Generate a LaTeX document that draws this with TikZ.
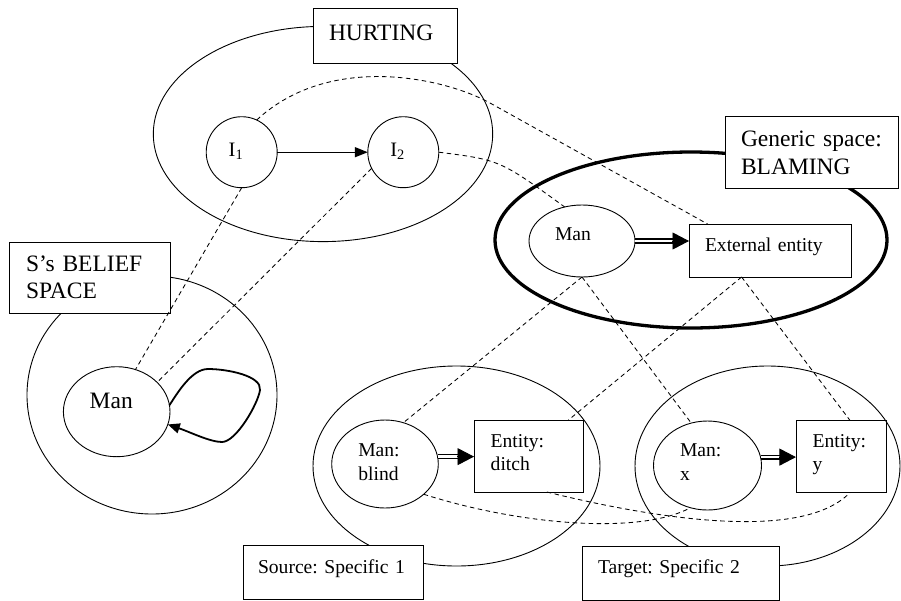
\documentclass[tikz,border=0pt]{standalone}
\usepackage{fontspec}
\setmainfont{Liberation Serif}
\usetikzlibrary{shapes.geometric, arrows.meta}
\frenchspacing

% type sizes: space labels, elements, instants
\newcommand\tagsize{\fontsize{23.5}{27.5}\selectfont}
\newcommand\itemsize{\fontsize{19.6}{23.5}\selectfont}
\newcommand\instsize{\fontsize{20.5}{24}\selectfont}

\begin{document}
\begin{tikzpicture}[x=1pt, y=-1pt,
  thinline/.style={line width=0.9pt},
  space/.style={draw, ellipse, thinline, inner sep=0pt, outer sep=0pt},
  tag/.style={draw, fill=white, rectangle, thinline, inner sep=1pt, outer sep=0pt,
    align=left, font=\tagsize},
  itemtag/.style={tag, font=\itemsize},
  elem/.style={draw, ellipse, thinline, inner sep=1pt, outer sep=0pt,
    align=left, font=\itemsize},
  entitybox/.style={draw, rectangle, thinline, inner sep=1pt, outer sep=0pt,
    align=left, font=\itemsize},
  inst/.style={draw, circle, thinline, minimum size=71pt, inner sep=0pt, outer sep=0pt,
    align=left, font=\instsize, text width=26pt, text height=14pt, text depth=5pt},
  mapline/.style={line width=0.85pt, dash pattern=on 4.5pt off 3.5pt},
  dblshaft/.style={double, double distance=2.6pt, line width=1.25pt},
  dbltip/.style={line width=0.9pt, -{Triangle[length=16.5pt,width=17pt]}},
]
\path[use as bounding box, fill=white] (0,0) rectangle (901,600);

% mental spaces
\node[space, minimum width=339.4pt, minimum height=215.2pt] (hurtsp) at (323,134) {};
\node[space, minimum width=250pt, minimum height=238pt] (beliefsp) at (152,395) {};
\node[space, line width=3.3pt, minimum width=392pt, minimum height=176pt] (genericsp) at (691,240) {};
\node[space, minimum width=287pt, minimum height=200pt] (sourcesp) at (456.5,466) {};
\node[space, minimum width=265pt, minimum height=200pt] (targetsp) at (767.5,466) {};

% space labels
\node[tag, minimum width=144pt, minimum height=55pt, text width=112pt,
  text height=16pt, text depth=7pt] (hurtlbl) at (385,35.5) {HURTING};
\node[tag, minimum width=161pt, minimum height=71pt, text width=127pt,
  text height=16pt, text depth=28.4pt] (beliefl) at (89.5,277.5) {\mbox{S’s BELIEF}\\SPACE};
\node[tag, minimum width=173pt, minimum height=72pt, text width=141pt,
  text height=16pt, text depth=27pt] (genericl) at (811.5,152) {\mbox{Generic space:}\\BLAMING};
\node[itemtag, minimum width=180pt, minimum height=54pt, text width=150pt,
  text height=14pt, text depth=11.4pt] (sourcel) at (333,572) {\mbox{Source: Specific 1}};
\node[itemtag, minimum width=197pt, minimum height=54pt, text width=165pt,
  text height=14pt, text depth=13pt] (targetl) at (680.5,573) {\mbox{Target: Specific 2}};

% elements
\node[inst] (i1) at (241.7,152.2) {I\textsubscript{1}};
\node[inst] (i2) at (403.3,152.2) {I\textsubscript{2}};
\node[elem, minimum width=106.6pt, minimum height=90pt, font=\tagsize, text width=54pt,
  text height=16pt, text depth=22.8pt] (bman) at (116.7,411.7) {Man};
\node[elem, minimum width=106pt, minimum height=72pt, text width=54pt,
  text height=14pt, text depth=14.6pt] (gman) at (582,241) {Man};
\node[entitybox, minimum width=162pt, minimum height=53pt, text width=130pt,
  text height=14pt, text depth=11.6pt] (ext) at (770,250.5) {\mbox{External entity}};
\node[elem, minimum width=106.6pt, minimum height=88pt, text width=53.4pt,
  text height=14pt, text depth=28.6pt] (mb) at (385,464) {Man:\\blind};
\node[entitybox, minimum width=109pt, minimum height=72pt, text width=75.6pt,
  text height=14pt, text depth=31.4pt] (ed) at (528.5,456) {Entity:\\ditch};
\node[elem, minimum width=108pt, minimum height=89pt, text width=55pt,
  text height=14pt, text depth=31.6pt] (mx) at (707.5,465.5) {Man:\\x};
\node[entitybox, minimum width=90.7pt, minimum height=71.6pt, text width=57.2pt,
  text height=14pt, text depth=32.4pt] (ey) at (841.3,456.5) {Entity:\\y};

% relations inside the spaces
\draw[line width=1.4pt, -{Triangle[length=13pt,width=10pt]}] (i1) -- (i2);
\draw[line width=1.8pt, -{Triangle[length=12pt,width=10pt]}]
  (bman.7) .. controls (178,392) and (192,369) .. (208,369)
  .. controls (228,369) and (262,376) .. (260,390)
  .. controls (258,404) and (236,442) .. (222,442)
  .. controls (210,442) and (190,432) .. (bman.-14);

\draw[dblshaft, shorten >=16pt] (gman.east) -- (gman.east -| ext.west);
\draw[dbltip, shorten <=37pt] (gman.east) -- (gman.east -| ext.west);
\draw[dblshaft, shorten >=16pt] (mb.8) -- (mb.8 -| ed.west);
\draw[dbltip, shorten <=19.5pt] (mb.8) -- (mb.8 -| ed.west);
\draw[dblshaft, shorten >=16pt] (mx.9) -- (mx.9 -| ey.west);
\draw[dbltip, shorten <=18.5pt] (mx.9) -- (mx.9 -| ey.west);

% cross-space mappings
\draw[mapline] (i1.south) -- (bman.66);
\draw[mapline] (i2.207) -- (bman.36);
\draw[mapline] (i1.65) .. controls (330,52) and (445,78) .. (490,103) -- (ext.157);
\draw[mapline] (i2.east) .. controls (500,160) .. (gman.117);
\draw[mapline] (gman.south) -- (mb.66);
\draw[mapline] (gman.south) -- (mx.111);
\draw[mapline] (ext.223) -- (ed.42);
\draw[mapline] (ext.223) -- (ey.76);
\draw[mapline] (mb.-38) .. controls (520,525) and (640,535) .. (mx.248);
\draw[mapline] (ed.-63) .. controls (640,515) and (800,545) .. (ey.-76);
\end{tikzpicture}
\end{document}
